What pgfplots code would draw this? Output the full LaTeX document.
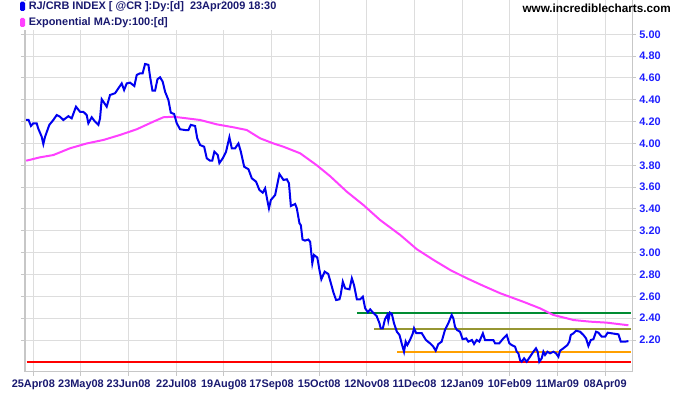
\documentclass[border=0pt]{standalone}
\usepackage{pgfplots}
\pgfplotsset{compat=1.18}
\usepackage{fontspec}
\setmainfont{Liberation Sans}
\definecolor{navy}{RGB}{25,25,112}
\definecolor{tickblue}{RGB}{30,30,255}
\definecolor{lineblue}{RGB}{0,0,240}
\definecolor{emamag}{RGB}{255,64,255}
\definecolor{gridgray}{RGB}{221,221,221}
\definecolor{lgreen}{RGB}{0,140,50}
\definecolor{lolive}{RGB}{150,150,50}
\definecolor{lorange}{RGB}{255,160,0}
\definecolor{lred}{RGB}{255,0,0}
\begin{document}
\begin{tikzpicture}
\path[use as bounding box] (0,0) rectangle (506.25pt,296.25pt);
\begin{axis}[
  at={(18.75pt,17.25pt)}, anchor=south west,
  scale only axis, width=455.25pt, height=279pt,
  xmin=-3.5, xmax=251.3, ymin=1.907, ymax=5.314,
  xtick={0,20,...,240},
  xticklabels={25Apr08,23May08,23Jun08,22Jul08,19Aug08,17Sep08,15Oct08,12Nov08,11Dec08,12Jan09,10Feb09,11Mar09,08Apr09},
  ytick={2.2,2.4,...,5.01},
  yticklabel pos=right,
  /pgf/number format/fixed,
  /pgf/number format/fixed zerofill,
  /pgf/number format/precision=2,
  /pgf/number format/assume math mode=true,
  tick label style={font=\fontsize{8.2}{10}\selectfont\bfseries},
  xticklabel style={text=navy, yshift=1pt},
  yticklabel style={text=tickblue, xshift=-1pt},
  grid=major, grid style={gridgray, line width=0.75pt},
  axis line style={gridgray!90!black, line width=0.75pt},
  tick align=outside, major tick length=3pt,
  tick style={gridgray!90!black, line width=0.75pt},
  clip=false,
]
\addplot[lred, line width=1.6pt] coordinates {(-2.8,2.0) (251,2.0)};
\addplot[lorange, line width=1.6pt] coordinates {(152.7,2.094) (251,2.094)};
\addplot[lolive, line width=1.6pt] coordinates {(143,2.303) (251,2.303)};
\addplot[lgreen, line width=1.6pt] coordinates {(135.8,2.445) (251,2.445)};
\addplot[emamag, line width=1.5pt] coordinates {
(-3,3.842) (2.8,3.873) (8.4,3.894) (15.4,3.956) (22.4,4.0) (29.4,4.032) (36.4,4.078)
(43.4,4.13) (50.4,4.2) (54.6,4.24) (58.8,4.245) (64.4,4.23) (70,4.215) (77,4.175)
(84,4.148) (89.6,4.123) (95.2,4.047) (100.8,4.0) (105,3.97) (112,3.91) (119,3.80)
(124.6,3.70) (131.6,3.558) (138.5,3.437) (145.5,3.30) (154,3.162) (161,3.031)
(168,2.933) (175,2.841) (182,2.765) (189,2.695) (196,2.628) (205.7,2.55) (212.7,2.49)
(218.3,2.429) (223.9,2.399) (226.7,2.383) (233.7,2.368) (240.7,2.359) (249.8,2.335)
};
\addplot[lineblue, line width=1.5pt] coordinates {
(-3,4.215) (-2,4.215) (-1,4.16) (0,4.185) (1.4,4.185) (2,4.14) (3.5,4.062) (4.2,3.995)
(4.9,4.06) (6.7,4.17) (8.4,4.215) (9.8,4.26) (11.2,4.245) (12.6,4.215) (14.7,4.25)
(16.1,4.23) (17.9,4.337) (19.6,4.29) (21,4.29) (22.4,4.26) (23.1,4.185) (24.5,4.24)
(25.9,4.2) (27.3,4.17) (28,4.23) (28.7,4.405) (29.4,4.383) (30.8,4.337) (32.2,4.444)
(34.3,4.46) (35.7,4.505) (37.1,4.55) (38.1,4.49) (39.2,4.55) (40.6,4.557) (42.4,4.526)
(43.4,4.627) (44.8,4.643) (45.9,4.643) (46.9,4.728) (48.3,4.72) (49,4.612) (50,4.483)
(51.1,4.483) (52.1,4.588) (53.2,4.606) (54.3,4.566) (55.3,4.474) (56.7,4.398)
(57.7,4.282) (59.1,4.27) (60.2,4.185) (61.6,4.13) (63.7,4.123) (65.1,4.123) (66.1,4.17)
(67.9,4.16) (68.8,4.047) (70,3.986) (71.7,3.97) (72.8,3.864) (74.2,3.842) (75.1,3.842)
(76,3.925) (77.4,3.895) (78.1,3.82) (79.5,3.864) (80.9,3.925) (82.3,4.057) (83.3,3.956)
(84.7,3.956) (86.1,4.0) (87.1,3.925) (88.5,3.787) (90.3,3.764) (91.7,3.681) (93.5,3.65)
(94.9,3.574) (96.3,3.549) (97.3,3.589) (98.2,3.482) (98.9,3.406) (99.7,3.482)
(101.5,3.528) (103.3,3.72) (105,3.666) (106.4,3.672) (107.3,3.635) (108.1,3.427)
(109.9,3.446) (110.6,3.406) (111.7,3.27) (112.3,3.25) (113,3.12) (114,3.11) (115.4,3.12)
(116.2,3.10) (117.1,2.903) (117.8,2.979) (119.2,2.955) (120.1,2.841) (120.9,2.756)
(122.3,2.826) (123.8,2.805) (124.9,2.72) (126,2.633) (127.1,2.566) (128.5,2.573)
(129,2.612) (129.9,2.734) (130.9,2.673) (132.7,2.664) (133.7,2.765) (134.6,2.704)
(135.8,2.573) (137.2,2.573) (138.3,2.597) (139.3,2.49) (140.4,2.454) (141.4,2.481)
(142.6,2.45) (144.1,2.42) (145.3,2.353) (145.8,2.307) (146.7,2.307) (147.6,2.39)
(148.6,2.43) (149,2.377) (149.7,2.45) (150.5,2.438) (151.4,2.353) (152.6,2.276)
(153.7,2.246) (154.6,2.17) (155.6,2.093) (156.3,2.185) (157,2.154) (158.1,2.2)
(159.3,2.261) (159.8,2.307) (160.7,2.264) (163,2.264) (164.8,2.2) (166.5,2.17)
(167.9,2.139) (168.9,2.102) (170,2.163) (171.4,2.185) (172.8,2.292) (174.2,2.353)
(175.6,2.429) (176.3,2.399) (177,2.322) (177.8,2.292) (179.1,2.276) (180.2,2.207)
(181.7,2.215) (182.6,2.185) (184.1,2.2) (185,2.163) (186.1,2.2) (187.2,2.185)
(188.7,2.261) (189.6,2.2) (191,2.2) (193.1,2.2) (193.8,2.17) (195.6,2.17) (197.3,2.215)
(198.7,2.246) (199.8,2.17) (200.8,2.154) (202.2,2.139) (202.9,2.093) (203.6,2.078)
(204.3,2.017) (205,2.001) (206,2.032) (207.1,2.001) (208.5,2.047) (209.9,2.093)
(211,2.124) (211.7,2.093) (212.4,2.001) (213.4,2.032) (214.1,2.093) (214.8,2.063)
(215.8,2.093) (216.9,2.078) (218.3,2.093) (219.4,2.078) (220.4,2.047) (221.1,2.102)
(222.5,2.124) (224.2,2.154) (225,2.185) (225.6,2.246) (226.7,2.261) (227.8,2.285)
(229.5,2.276) (230.9,2.246) (232,2.215) (233,2.146) (234,2.2) (235.1,2.207)
(236.2,2.276) (237.2,2.267) (238.6,2.23) (240,2.23) (241.1,2.267) (242.8,2.261)
(245.6,2.252) (246.6,2.185) (248.4,2.185) (249.8,2.19)
};
\end{axis}
\begin{scope}[x=0.75pt,y=-0.75pt,shift={(0pt,296.25pt)}]
\fill[white] (19.5,0.8) rectangle (300,30);
\fill[lineblue, rounded corners=1pt] (20,1.7) rectangle (25,11);
\fill[emamag, rounded corners=1pt] (20,18) rectangle (25,27);
\node[anchor=west, inner sep=0pt, text=navy, font=\fontsize{8.2}{10}\selectfont\bfseries] at (28.5,6.5) {RJ/CRB INDEX [ @CR ]:Dy:[d]\ \ 23Apr2009 18:30};
\node[anchor=west, inner sep=0pt, text=navy, font=\fontsize{8.2}{10}\selectfont\bfseries] at (28.5,22.5) {Exponential MA:Dy:100:[d]};
\node[anchor=east, inner sep=0pt, text=black, font=\fontsize{8.8}{10}\selectfont\bfseries] at (671,8) {www.incrediblecharts.com};
\end{scope}
\end{tikzpicture}
\end{document}
